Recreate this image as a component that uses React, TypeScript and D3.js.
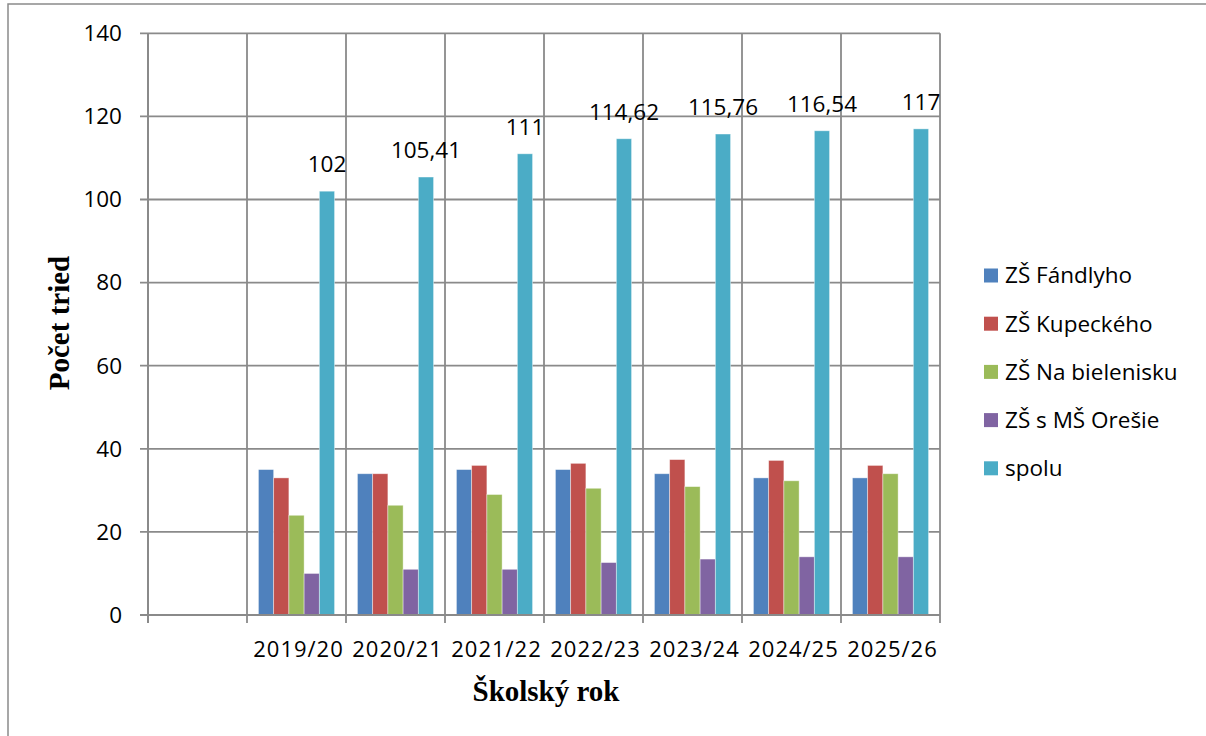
import React from "react";
import * as d3 from "d3";

const years = ["2019/20", "2020/21", "2021/22", "2022/23", "2023/24", "2024/25", "2025/26"];
const seriesNames = ["ZŠ Fándlyho", "ZŠ Kupeckého", "ZŠ Na bielenisku", "ZŠ s MŠ Orešie", "spolu"];
const fandlyho = [35, 34, 35, 35, 34, 33, 33];
const kupeckeho = [33, 34, 36, 36.5, 37.4, 37.2, 36];
const bielenisku = [24, 26.41, 29, 30.5, 30.9, 32.3, 34];
const oresie = [10, 11, 11, 12.62, 13.46, 14, 14];
const spolu = [102, 105.41, 111, 114.62, 115.76, 116.54, 117];
const spoluLabels = ["102", "105,41", "111", "114,62", "115,76", "116,54", "117"];
const yTicks = [0, 20, 40, 60, 80, 100, 120, 140];
const colors = ["#4F81BD", "#C0504D", "#9BBB59", "#8064A2", "#4BACC6"];

const seriesValues = [fandlyho, kupeckeho, bielenisku, oresie, spolu];

export default function App() {
  const left = 148, right = 940, top = 33.3, bottom = 615;
  const cats = ["", ...years];
  const x = d3.scaleBand<string>().domain(cats).range([left, right]).paddingInner(0).paddingOuter(0);
  const sub = d3
    .scaleBand<number>()
    .domain(d3.range(seriesNames.length))
    .range([0, x.bandwidth()])
    .paddingInner(0)
    .paddingOuter(0.75);
  const y = d3.scaleLinear().domain([0, 140]).range([bottom, top]);
  const grid = "#8a8a8a";
  const sans = "'Open Sans', sans-serif";
  const serif = "'Liberation Serif', 'Times New Roman', serif";

  return (
    <svg
      width={1206}
      height={736}
      style={{ position: "absolute", left: 0, top: 0, background: "#fff" }}
    >
      <rect x={8} y={4} width={1210} height={740} fill="#fff" stroke="#8a8a8a" strokeWidth={1.5} />
      {yTicks.map((t) => (
        <g key={"y" + t}>
          <line x1={left - 8} x2={right} y1={y(t)} y2={y(t)} stroke={grid} strokeWidth={1.8} />
          <text
            x={122}
            y={y(t) + 7.8}
            textAnchor="end"
            fontFamily={sans}
            fontSize={22.5}
            fill="#000"
          >
            {t}
          </text>
        </g>
      ))}
      {cats.map((c, i) => (
        <line
          key={"v" + i}
          x1={x(c)!}
          x2={x(c)!}
          y1={top}
          y2={bottom + 8}
          stroke={grid}
          strokeWidth={1.8}
        />
      ))}
      <line x1={right} x2={right} y1={top} y2={bottom + 8} stroke={grid} strokeWidth={1.8} />
      {years.map((yr, ci) => (
        <g key={yr} transform={`translate(${x(yr)},0)`}>
          {seriesValues.map((vals, si) => (
            <rect
              key={si}
              x={sub(si)!}
              y={y(vals[ci])}
              width={sub.bandwidth()}
              height={y(0) - y(vals[ci])}
              fill={colors[si]}
              stroke="#ffffff"
              strokeOpacity={0.5}
              strokeWidth={0.8}
            />
          ))}
          <text
            x={sub(4)! + sub.bandwidth() / 2}
            y={y(spolu[ci]) - 19}
            textAnchor="middle"
            fontFamily={sans}
            fontSize={22.5}
            fill="#000"
          >
            {spoluLabels[ci]}
          </text>
          <text
            x={x.bandwidth() / 2 + 2}
            y={656.5}
            textAnchor="middle"
            fontFamily={sans}
            fontSize={22}
            letterSpacing={1}
            fill="#000"
          >
            {yr}
          </text>
        </g>
      ))}
      <line x1={left - 8} x2={right} y1={y(0)} y2={y(0)} stroke={grid} strokeWidth={2} />
      <line x1={left} x2={left} y1={top} y2={bottom + 8} stroke={grid} strokeWidth={2} />
      <text
        transform={`translate(69,323) rotate(-90)`}
        textAnchor="middle"
        fontFamily={serif}
        fontWeight="bold"
        fontSize={29}
        fill="#000"
      >
        Počet tried
      </text>
      <text
        x={546}
        y={701}
        textAnchor="middle"
        fontFamily={serif}
        fontWeight="bold"
        fontSize={29}
        fill="#000"
      >
        Školský rok
      </text>
      {seriesNames.map((n, i) => {
        const cy = 275.5 + i * 48.2;
        return (
          <g key={n}>
            <rect x={984} y={cy - 7} width={14} height={14} fill={colors[i]} />
            <text x={1005} y={cy + 7.8} fontFamily={sans} fontSize={22.5} fill="#000">
              {n}
            </text>
          </g>
        );
      })}
    </svg>
  );
}
